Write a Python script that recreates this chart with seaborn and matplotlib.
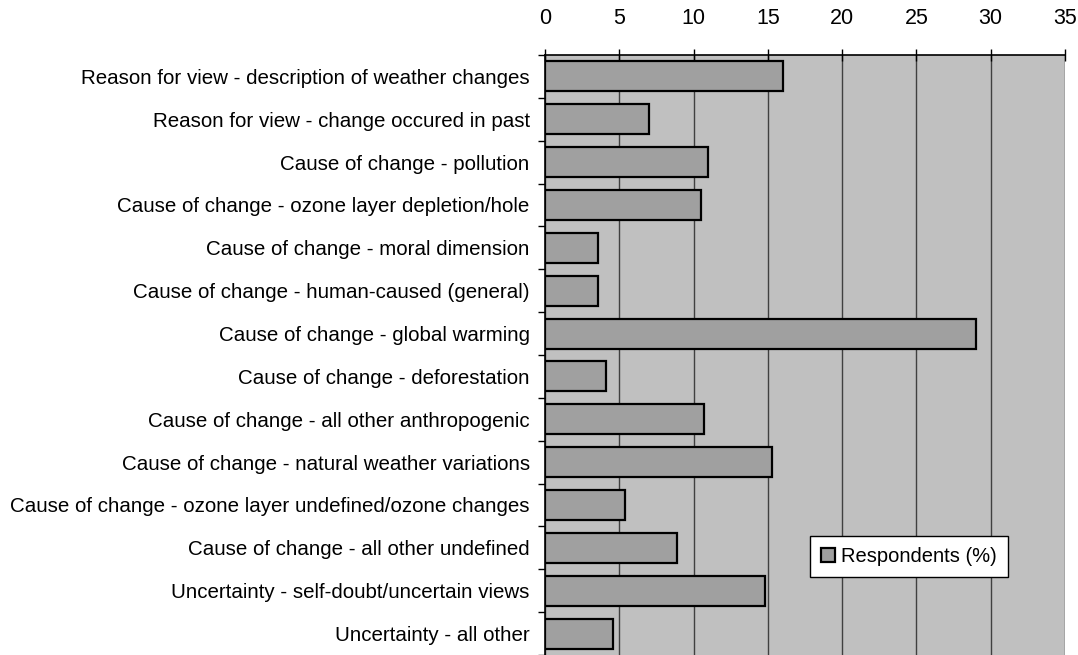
import matplotlib
matplotlib.use("Agg")
import matplotlib.pyplot as plt
import seaborn as sns
import pandas as pd
import numpy as np
from matplotlib.ticker import FixedLocator

categories = [
    "Reason for view - description of weather changes",
    "Reason for view - change occured in past",
    "Cause of change - pollution",
    "Cause of change - ozone layer depletion/hole",
    "Cause of change - moral dimension",
    "Cause of change - human-caused (general)",
    "Cause of change - global warming",
    "Cause of change - deforestation",
    "Cause of change - all other anthropogenic",
    "Cause of change - natural weather variations",
    "Cause of change - ozone layer undefined/ozone changes",
    "Cause of change - all other undefined",
    "Uncertainty - self-doubt/uncertain views",
    "Uncertainty - all other",
]
respondents = [16.0, 7.0, 11.0, 10.5, 3.6, 3.6, 29.0, 4.1, 10.7, 15.3, 5.4, 8.9, 14.8, 4.6]
series_name = "Respondents (%)"
x_ticks = [0, 5, 10, 15, 20, 25, 30, 35]

sns.set_theme(style="white")
plt.rcParams["font.family"] = ["Liberation Sans", "DejaVu Sans"]
plt.rcParams["text.color"] = "black"
plt.rcParams["xtick.color"] = "black"
plt.rcParams["ytick.color"] = "black"

df = pd.DataFrame({"category": categories, "value": respondents})

fig = plt.figure(figsize=(10.78, 6.55), dpi=100)
ax = fig.add_axes([545 / 1078, 0.0, 520 / 1078, 1 - 55 / 655])
ax.set_facecolor("#C0C0C0")

sns.barplot(data=df, y="category", x="value", orient="h", ax=ax,
            color="#A0A0A0", edgecolor="black", linewidth=1.6,
            width=0.7, saturation=1, label=series_name)

ax.set_xlim(0, 35)
ax.set_ylim(len(categories) - 0.5, -0.5)
ax.set_xlabel("")
ax.set_ylabel("")

# value axis on top
ax.xaxis.tick_top()
ax.set_xticks(x_ticks)
ax.set_xticklabels([str(t) for t in x_ticks], fontsize=15.5)
ax.tick_params(axis="x", which="major", direction="inout", length=9, width=1,
               color="black", labelcolor="black", pad=14)
ax.grid(axis="x", color="#404040", linewidth=1)
ax.set_axisbelow(True)

# category ticks sit between categories
ax.set_yticks(range(len(categories)))
ax.set_yticklabels(categories, fontsize=14.8)
ax.tick_params(axis="y", which="major", length=0, pad=11, labelcolor="black")
ax.yaxis.set_minor_locator(FixedLocator(np.arange(-0.5, len(categories), 1.0)))
ax.tick_params(axis="y", which="minor", direction="out", length=5, width=1,
               color="black", left=True)

for side in ["left", "top"]:
    ax.spines[side].set_visible(True)
    ax.spines[side].set_color("black")
    ax.spines[side].set_linewidth(1.2)
for side in ["right", "bottom"]:
    ax.spines[side].set_visible(False)

leg = ax.legend(loc="upper left", bbox_to_anchor=((810 - 545) / 520, 1 - (536 - 55) / 600),
                frameon=True, fancybox=False, fontsize=14.5, handlelength=0.7,
                handleheight=0.75, handletextpad=0.3, borderpad=0.55,
                borderaxespad=0)
leg.get_frame().set_edgecolor("black")
leg.get_frame().set_facecolor("white")
leg.get_frame().set_linewidth(1)
leg.get_frame().set_alpha(1)
for t in leg.get_texts():
    t.set_color("black")

fig.savefig("out.png", dpi=100)
